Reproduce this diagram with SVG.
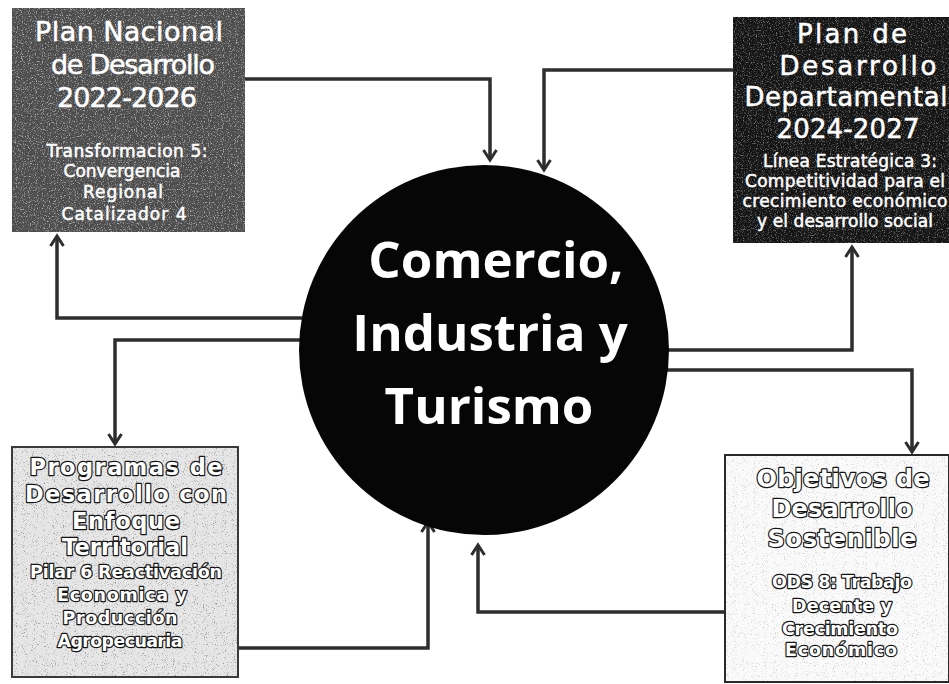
<svg xmlns="http://www.w3.org/2000/svg" width="949" height="684" viewBox="0 0 949 684">
  <defs>
    <style>
      .conn { fill: none; stroke: #2e2e2e; stroke-width: 3.5; marker-end: url(#arrow); }
      .tw { font-family: "DejaVu Sans", "Liberation Sans", sans-serif; fill: #ffffff; stroke: #ffffff; stroke-width: 0.5; text-anchor: middle; }
      .to { font-family: "DejaVu Sans", "Liberation Sans", sans-serif; font-weight: 700; fill: #ffffff; stroke: #141414; stroke-width: 2.4; stroke-linejoin: round; paint-order: stroke; text-anchor: middle; }
      .t1 { font-size: 27px; }
      .t1b { font-size: 26px; }
      .t2 { font-size: 17px; }
      .b1 { font-size: 22.5px; }
      .b1r { font-size: 24px; }
      .b2 { font-size: 17.5px; }
      .hub { font-family: "Open Sans", "Liberation Sans", sans-serif; font-weight: 700; font-size: 51px; fill: #ffffff; text-anchor: middle; }
    </style>
    <marker id="arrow" markerUnits="userSpaceOnUse" markerWidth="18" markerHeight="18" refX="13" refY="9" orient="auto">
      <path d="M3,2.5 L13,9 L3,15.5" fill="none" stroke="#2e2e2e" stroke-width="3"/>
    </marker>
    <filter id="grainLight" x="0" y="0" width="100%" height="100%">
      <feTurbulence type="fractalNoise" baseFrequency="0.85" numOctaves="2" seed="4"/>
      <feColorMatrix type="matrix" values="0 0 0 0 1  0 0 0 0 1  0 0 0 0 1  4 0 0 0 -2.1"/>
    </filter>
    <filter id="grainDark" x="0" y="0" width="100%" height="100%">
      <feTurbulence type="fractalNoise" baseFrequency="0.9" numOctaves="2" seed="9"/>
      <feColorMatrix type="matrix" values="0 0 0 0 0  0 0 0 0 0  0 0 0 0 0  5 0 0 0 -3.0"/>
    </filter>
  </defs>

  <rect x="0" y="0" width="949" height="684" fill="#ffffff"/>

  <g id="connectors">
    <path class="conn" d="M245,79 H490 V160"/>
    <path class="conn" d="M733,70 H544 V170"/>
    <path class="conn" d="M302,318 H57 V236"/>
    <path class="conn" d="M300,340 H115 V444"/>
    <path class="conn" d="M668,350 H852 V247"/>
    <path class="conn" d="M665,370 H912 V452"/>
    <path class="conn" d="M238,648 H428 V522"/>
    <path class="conn" d="M725,612 H478 V545"/>
  </g>

  <g id="hub">
    <circle cx="484" cy="350" r="185" fill="#060606"/>
    <text class="hub" x="496" y="278">Comercio,</text>
    <text class="hub" x="490" y="351">Industria y</text>
    <text class="hub" x="489" y="424">Turismo</text>
  </g>

  <g id="plan-nacional">
    <rect x="12" y="8" width="233" height="224" fill="#4d4d4d"/>
    <rect x="12" y="8" width="233" height="224" filter="url(#grainLight)" opacity="0.55"/>
    <text class="tw t1" x="129" y="41" textLength="188">Plan Nacional</text>
    <text class="tw t1" x="133" y="74" textLength="164">de Desarrollo</text>
    <text class="tw t1" x="127" y="107" textLength="140">2022-2026</text>
    <text class="tw t2" x="127" y="157" textLength="161">Transformacion 5:</text>
    <text class="tw t2" x="122" y="177" textLength="117">Convergencia</text>
    <text class="tw t2" x="123" y="198" textLength="80">Regional</text>
    <text class="tw t2" x="124" y="220" textLength="125">Catalizador 4</text>
  </g>

  <g id="plan-departamental">
    <rect x="733" y="17" width="216" height="226" fill="#151515"/>
    <rect x="733" y="17" width="216" height="226" filter="url(#grainLight)" opacity="0.4"/>
    <text class="tw t1b" x="852" y="43" textLength="110">Plan de</text>
    <text class="tw t1b" x="858" y="75" textLength="157">Desarrollo</text>
    <text class="tw t1b" x="846" y="106" textLength="203">Departamental</text>
    <text class="tw t1b" x="848" y="138" textLength="143">2024-2027</text>
    <text class="tw t2" x="850" y="167" textLength="174">Línea Estratégica 3:</text>
    <text class="tw t2" x="845" y="187" textLength="200">Competitividad para el</text>
    <text class="tw t2" x="845" y="207" textLength="205">crecimiento económico</text>
    <text class="tw t2" x="845" y="227" textLength="176">y el desarrollo social</text>
  </g>

  <g id="pdet">
    <rect x="12" y="447" width="226" height="230" fill="#e6e6e6" stroke="#3a3a3a" stroke-width="2"/>
    <rect x="13" y="448" width="224" height="228" filter="url(#grainDark)" opacity="0.35"/>
    <text class="to b1" x="126" y="475" textLength="193">Programas de</text>
    <text class="to b1" x="126" y="502" textLength="202">Desarrollo con</text>
    <text class="to b1" x="126" y="529" textLength="108">Enfoque</text>
    <text class="to b1" x="125" y="555" textLength="126">Territorial</text>
    <text class="to b2" x="126" y="578" textLength="192">Pilar 6 Reactivación</text>
    <text class="to b2" x="122" y="601" textLength="130">Economica y</text>
    <text class="to b2" x="120" y="624" textLength="115">Producción</text>
    <text class="to b2" x="120" y="647" textLength="125">Agropecuaria</text>
  </g>

  <g id="ods">
    <rect x="725" y="455" width="224" height="227" fill="#fafafa" stroke="#2a2a2a" stroke-width="2"/>
    <rect x="726" y="456" width="222" height="225" filter="url(#grainDark)" opacity="0.18"/>
    <text class="to b1r" x="843" y="487" textLength="173">Objetivos de</text>
    <text class="to b1r" x="842" y="517" textLength="141">Desarrollo</text>
    <text class="to b1r" x="842" y="547" textLength="149">Sostenible</text>
    <text class="to b2" x="842" y="588" textLength="140">ODS 8: Trabajo</text>
    <text class="to b2" x="842" y="612" textLength="100">Decente y</text>
    <text class="to b2" x="840" y="635" textLength="116">Crecimiento</text>
    <text class="to b2" x="841" y="656" textLength="112">Económico</text>
  </g>
</svg>
